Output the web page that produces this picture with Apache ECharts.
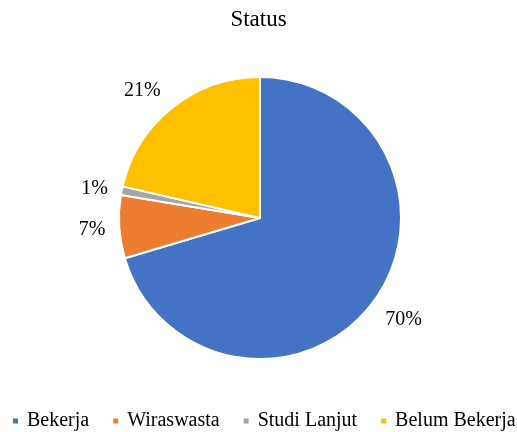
<!DOCTYPE html>
<html>
<head>
<meta charset="utf-8">
<script src="https://cdn.jsdelivr.net/npm/echarts@6/dist/echarts.min.js"></script>
<style>html,body{margin:0;padding:0;background:#fff}#c{width:517px;height:432px}</style>
</head>
<body>
<div id="c"></div>
<script>
var titleText = 'Status';
var categories = ['Bekerja', 'Wiraswasta', 'Studi Lanjut', 'Belum Bekerja'];
var values = [70.4, 7.2, 1.0, 21.4];
var colors = ['#4472C4', '#ED7D31', '#A5A5A5', '#FFC000'];
var labelOffsets = [[0, 12], [0, 2], [0, 0], [-1, -10]];

var font = '"Liberation Serif", "Times New Roman", serif';
var chart = echarts.init(document.getElementById('c'));
chart.setOption({
  animation: false,
  color: colors,
  title: {
    text: titleText, left: 'center', top: 3,
    textStyle: { fontFamily: font, fontSize: 23, fontWeight: 'normal', color: '#000' }
  },
  legend: {
    bottom: -4, left: 6, width: 511, padding: [5, 0, 5, 5],
    itemWidth: 7, itemHeight: 7, itemGap: 22,
    icon: 'rect',
    textStyle: { fontFamily: font, fontSize: 20, color: '#000', padding: [0, 0, 0, 3] },
    data: categories
  },
  series: [{
    type: 'pie',
    center: [260, 218],
    radius: [0, 141],
    startAngle: 90,
    clockwise: true,
    avoidLabelOverlap: true,
    itemStyle: { borderColor: '#fff', borderWidth: 2 },
    label: {
      position: 'outside',
      fontFamily: font, fontSize: 20, color: '#000',
      formatter: function (p) { return Math.round(p.percent) + '%'; }
    },
    labelLine: { show: false, length: 9, length2: 0 },
    data: categories.map(function (n, i) {
      return { name: n, value: values[i], label: { offset: labelOffsets[i] } };
    })
  }]
});
</script>
</body>
</html>
